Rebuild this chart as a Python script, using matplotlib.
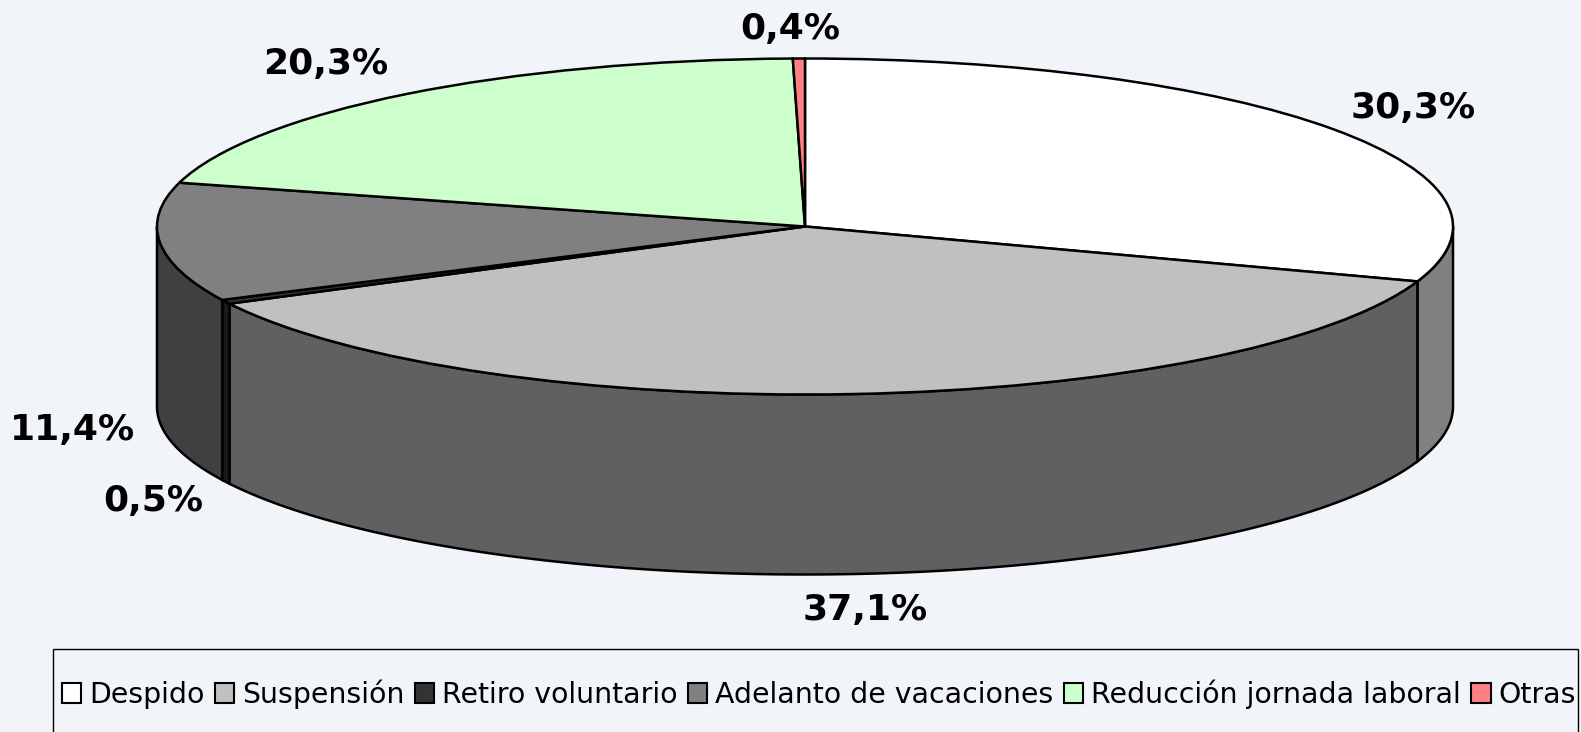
import numpy as np
import matplotlib
matplotlib.use('Agg')
import matplotlib.pyplot as plt
from matplotlib.patches import Patch, Rectangle

W, H = 1581, 732

categories = ['Despido', 'Suspensión', 'Retiro voluntario', 'Adelanto de vacaciones',
              'Reducción jornada laboral', 'Otras']
values = [30.3, 37.1, 0.4, 11.4, 20.5, 0.3]
value_labels = ['30,3%', '37,1%', '0,5%', '11,4%', '20,3%', '0,4%']
top_colors = ['#ffffff', '#c0c0c0', '#333333', '#808080', '#ccffcc', '#ff8080']
side_colors = ['#808080', '#606060', '#1a1a1a', '#404040', '#669966', '#804040']
# label centres in pixels of the picture
label_pos = [(1413, 108), (865, 610), (153, 501), (72, 430), (326, 64), (790, 29)]

bg = '#f1f5f9'
cx, cy, rx, ry, depth = 805, 226.5, 648, 168, 180
lw = 1.8

fig = plt.figure(figsize=(W / 100, H / 100), dpi=100, facecolor=bg)
ax = fig.add_axes([0, 0, 1, 1])

# top face, a normal pie squashed by the axes limits
ax.pie(values, colors=top_colors, startangle=90, counterclock=False, radius=1,
       wedgeprops={'edgecolor': 'black', 'linewidth': lw, 'zorder': 3})
ax.set_aspect('auto')
ax.set_xlim(-cx / rx, (W - cx) / rx)
ax.set_ylim((cy - H) / ry, cy / ry)

# side wall, only the front half is visible
d = depth / ry
ends = 90 - 3.6 * np.cumsum(values)
starts = np.r_[90, ends[:-1]]
for a0, a1, col in zip(starts, ends, side_colors):
    a0, a1 = min(a0, 0), max(a1, -180)
    if a0 <= a1:
        continue
    t = np.radians(np.linspace(a0, a1, 200))
    x, y = np.cos(t), np.sin(t)
    ax.fill(np.r_[x, x[::-1]], np.r_[y, y[::-1] - d], facecolor=col,
            edgecolor='black', linewidth=lw, zorder=2)

for txt, (px, py) in zip(value_labels, label_pos):
    fig.text(px / W, 1 - py / H, txt, ha='center', va='center', fontsize=26,
             fontweight='bold', family='DejaVu Sans', color='black')

# legend box runs off the bottom of the picture
fig.add_artist(Rectangle((53.5 / W, -0.02), (1577.5 - 53.5) / W, 1 - 649 / H + 0.02,
                         transform=fig.transFigure, facecolor='none',
                         edgecolor='black', linewidth=1))
handles = [Patch(facecolor=c, edgecolor='black', linewidth=1.5) for c in top_colors]
fig.legend(handles, categories, ncol=6, frameon=False, loc='center',
           bbox_to_anchor=(819 / W, 1 - 694 / H), fontsize=20.4,
           handlelength=0.68, handleheight=0.68, handletextpad=0.28,
           columnspacing=0.37, borderpad=0, borderaxespad=0)

fig.savefig('out.png', dpi=100, facecolor=bg)
